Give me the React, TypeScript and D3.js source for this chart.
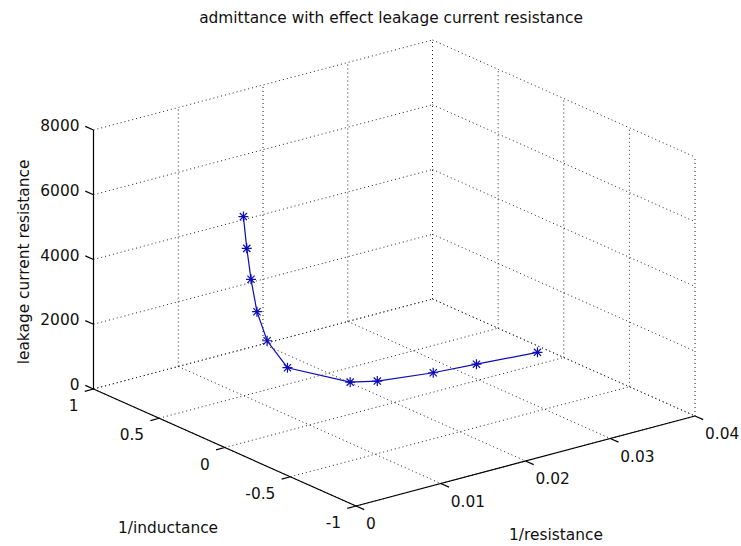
import { useEffect, useRef } from "react";
import * as d3 from "d3";

// values (y is constant 0, hence MATLAB's [-1 1] limits)
const invResistance = [0.0022, 0.0026, 0.0031, 0.0038, 0.005, 0.0074, 0.0148, 0.018, 0.0246, 0.0297, 0.0369];
const invInductance = [0, 0, 0, 0, 0, 0, 0, 0, 0, 0, 0];
const leakageResistance = [6980, 5970, 4980, 3930, 2950, 1950, 990, 800, 600, 510, 375];

const xTicks = [0, 0.01, 0.02, 0.03, 0.04];
const yTicks = [-1, -0.5, 0, 0.5, 1];
const zTicks = [0, 2000, 4000, 6000, 8000];

const FONT = "DejaVu Sans, sans-serif";

export default function App() {
  const ref = useRef<HTMLDivElement>(null);

  useEffect(() => {
    const container = d3.select(ref.current);
    container.selectAll("*").remove();

    const width = 741, height = 546;
    const svg = container.append("svg")
      .attr("width", width)
      .attr("height", height)
      .style("position", "absolute")
      .style("left", 0)
      .style("top", 0)
      .style("background", "#fff");

    // normalized box coordinates
    const xs = d3.scaleLinear().domain([0, 0.04]).range([0, 1]);
    const ys = d3.scaleLinear().domain([1, -1]).range([0, 1]);
    const zs = d3.scaleLinear().domain([0, 8000]).range([0, 1]);

    // screen placement of the box (MATLAB default view)
    const O = [93.5, 389];
    const U = [339, -90];
    const V = [262.5, 117];
    const W = [0, -259];
    const P = (u: number, v: number, w: number): [number, number] =>
      [O[0] + u * U[0] + v * V[0] + w * W[0], O[1] + u * U[1] + v * V[1] + w * W[1]];
    const proj = (x: number, y: number, z: number) => P(xs(x), ys(y), zs(z));

    const seg = (g: any, a: [number, number], b: [number, number], dotted: boolean) =>
      g.append("line")
        .attr("x1", a[0]).attr("y1", a[1])
        .attr("x2", b[0]).attr("y2", b[1])
        .attr("stroke", dotted ? "#222" : "#000")
        .attr("stroke-width", dotted ? 1 : 1.2)
        .attr("stroke-dasharray", dotted ? "1,3" : null);

    const grid = svg.append("g");
    // floor
    xTicks.forEach(t => seg(grid, P(xs(t), 0, 0), P(xs(t), 1, 0), true));
    yTicks.forEach(t => seg(grid, P(0, ys(t), 0), P(1, ys(t), 0), true));
    // back wall y = 1
    xTicks.forEach(t => seg(grid, P(xs(t), 0, 0), P(xs(t), 0, 1), true));
    zTicks.forEach(t => seg(grid, P(0, 0, zs(t)), P(1, 0, zs(t)), true));
    // back wall x = 0.04
    yTicks.forEach(t => seg(grid, P(1, ys(t), 0), P(1, ys(t), 1), true));
    zTicks.forEach(t => seg(grid, P(1, 0, zs(t)), P(1, 1, zs(t)), true));

    // axes
    const axes = svg.append("g");
    seg(axes, P(0, 0, 0), P(0, 0, 1), false);
    seg(axes, P(0, 0, 0), P(0, 1, 0), false);
    seg(axes, P(0, 1, 0), P(1, 1, 0), false);

    const unit = (d: number[]) => { const l = Math.hypot(d[0], d[1]); return [d[0] / l, d[1] / l]; };
    const uN = unit(U), vN = unit(V);
    const tl = 9;

    const labels = svg.append("g")
      .attr("font-family", FONT)
      .attr("font-size", 15.4)
      .attr("fill", "#111");

    zTicks.forEach(t => {
      const p = P(0, 0, zs(t));
      seg(axes, p, [p[0] - vN[0] * tl, p[1] - vN[1] * tl], false);
      labels.append("text")
        .attr("x", p[0] - 14).attr("y", p[1] - 4)
        .attr("text-anchor", "end").attr("dominant-baseline", "central")
        .text(String(t));
    });
    yTicks.forEach(t => {
      const p = P(0, ys(t), 0);
      seg(axes, p, [p[0] - uN[0] * tl, p[1] - uN[1] * tl], false);
      labels.append("text")
        .attr("x", p[0] - 15).attr("y", p[1] + 17)
        .attr("text-anchor", "end").attr("dominant-baseline", "central")
        .text(String(t));
    });
    xTicks.forEach(t => {
      const p = P(xs(t), 1, 0);
      seg(axes, p, [p[0] + vN[0] * tl, p[1] + vN[1] * tl], false);
      labels.append("text")
        .attr("x", p[0] + 10).attr("y", p[1] + 18)
        .attr("text-anchor", "start").attr("dominant-baseline", "central")
        .text(String(t));
    });

    // title and axis labels
    labels.append("text")
      .attr("x", 391).attr("y", 23)
      .attr("text-anchor", "middle")
      .text("admittance with effect leakage current resistance");
    labels.append("text")
      .attr("transform", "translate(29,262) rotate(-90)")
      .attr("text-anchor", "middle")
      .text("leakage current resistance");
    labels.append("text")
      .attr("x", 168).attr("y", 533)
      .attr("text-anchor", "middle")
      .text("1/inductance");
    labels.append("text")
      .attr("x", 556).attr("y", 540)
      .attr("text-anchor", "middle")
      .text("1/resistance");

    // data line with '*' markers
    const pts = invResistance.map((x, i) => proj(x, invInductance[i], leakageResistance[i]));
    const blue = "#0c0cb8";
    svg.append("path")
      .attr("d", d3.line()(pts))
      .attr("fill", "none")
      .attr("stroke", blue)
      .attr("stroke-width", 1.2);

    const m = svg.append("g").attr("stroke", blue).attr("stroke-width", 1.2);
    pts.forEach(([px, py]) => {
      const r = 5, d = 3.6;
      m.append("path")
        .attr("d", `M${px - r},${py}H${px + r}M${px},${py - r}V${py + r}` +
          `M${px - d},${py - d}L${px + d},${py + d}M${px - d},${py + d}L${px + d},${py - d}`);
    });
  }, []);

  return <div ref={ref}></div>;
}
